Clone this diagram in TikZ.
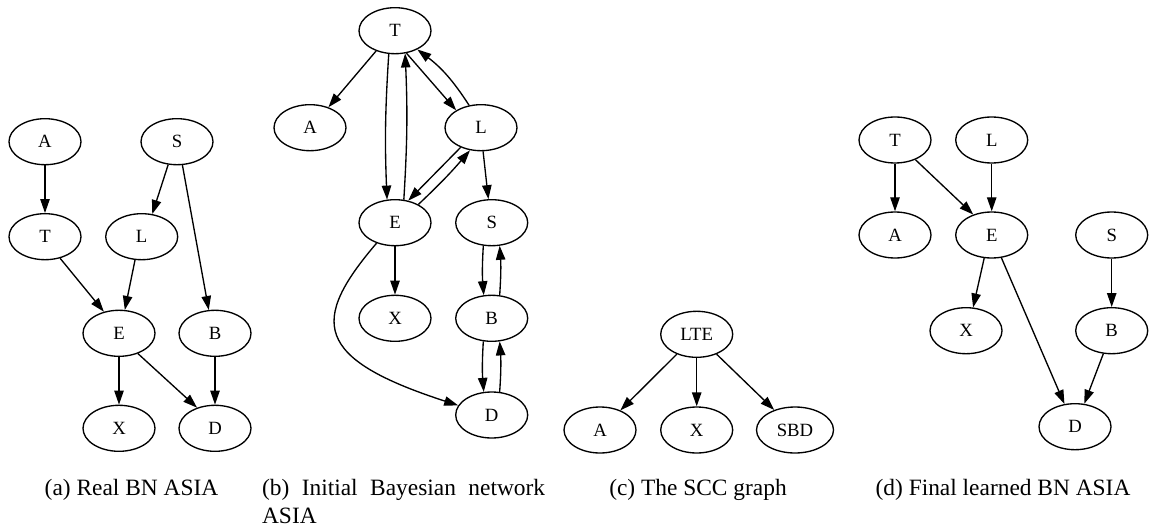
\documentclass[tikz,border=0pt]{standalone}
\usepackage{fontspec}
\setmainfont{Liberation Serif}
\usetikzlibrary{shapes.geometric,arrows.meta}
\tikzset{
  nd/.style={ellipse, draw, line width=0.67pt, minimum width=36pt, minimum height=23pt, inner sep=0pt, font=\fontsize{9.35}{11}\selectfont},
  ed/.style={-{Triangle[length=7pt,width=4.7pt]}, line width=0.67pt},
  captxt/.style={font=\fontsize{11.7}{14}\selectfont, anchor=base, inner sep=0pt}
}
\begin{document}
\begin{tikzpicture}[x=0.5pt,y=0.5pt]
\useasboundingbox (0,0) rectangle (1149,-529);
% (a)
\node[nd] (aA) at (45,-141.7) {A};
\node[nd] (aS) at (177,-141.7) {S};
\node[nd] (aT) at (45,-236.7) {T};
\node[nd] (aL) at (141.7,-236.7) {L};
\node[nd] (aE) at (119,-333.3) {E};
\node[nd] (aB) at (215,-333.3) {B};
\node[nd] (aX) at (119,-428.3) {X};
\node[nd] (aD) at (215,-428.3) {D};
\draw[ed] (aA) -- (aT);
\draw[ed] (aS.249.5) -- (aL.65.3);
\draw[ed] (aS.283.4) -- (aB.105.6);
\draw[ed] (aT.305.6) -- (aE.125.8);
\draw[ed] (aL.254.6) -- (aE.76);
\draw[ed] (aE) -- (aX);
\draw[ed] (aE.313) -- (aD.131.3);
\draw[ed] (aB) -- (aD);
% (b)
\node[nd] (bT) at (395,-30.7) {T};
\node[nd] (bA) at (310,-127.7) {A};
\node[nd] (bL) at (481,-127.7) {L};
\node[nd] (bE) at (395,-222.7) {E};
\node[nd] (bS) at (491.7,-222.7) {S};
\node[nd] (bX) at (395,-318.3) {X};
\node[nd] (bB) at (491.7,-318.3) {B};
\node[nd] (bD) at (491.7,-415) {D};
\draw[ed] (bT.227.7) -- (bA.48.8);
\draw[ed] (bT.255.2) to[bend right=3] (bE.109.6);
\draw[ed] (bE.69.9) to[bend right=3] (bT.294);
\draw[ed] (bT.297.7) -- (bL.145.6);
\draw[ed] (bL.118.2) to[bend right=10] (bT.320.4);
\draw[ed] (bL.224.6) -- (bE.59.6);
\draw[ed] (bE.38.7) to[bend right=3] (bL.244);
\draw[ed] (bL.275.5) -- (bS.98.3);
\draw[ed] (bE) -- (bX);
\draw[ed] (bE.228) .. controls (310,-321) and (313.5,-358.5) .. (bD.164.4);
\draw[ed] (bS.250) to[bend right=4] (bB.109.8);
\draw[ed] (bB.71.9) to[bend right=4] (bS.289.4);
\draw[ed] (bB.250) to[bend right=4] (bD.109.8);
\draw[ed] (bD.71.9) to[bend right=4] (bB.289.4);
% (c)
\node[nd] (cL) at (696.7,-334.3) {LTE};
\node[nd] (cA) at (600,-430) {A};
\node[nd] (cX) at (696.7,-430) {X};
\node[nd, minimum width=38.5pt] (cS) at (795,-430) {SBD};
\draw[ed] (cL.225) -- (cA.44);
\draw[ed] (cL) -- (cX);
\draw[ed] (cL.315) -- (cS.136);
% (d)
\node[nd] (dT) at (895,-140) {T};
\node[nd] (dL) at (991.7,-140) {L};
\node[nd] (dA) at (895,-235) {A};
\node[nd] (dE) at (991.7,-235) {E};
\node[nd] (dS) at (1111.7,-235) {S};
\node[nd] (dX) at (966,-330.7) {X};
\node[nd] (dB) at (1111.7,-330.7) {B};
\node[nd] (dD) at (1075,-426.7) {D};
\draw[ed] (dT) -- (dA);
\draw[ed] (dT.316.4) -- (dE.132.7);
\draw[ed] (dL) -- (dE);
\draw[ed] (dS) -- (dB);
\draw[ed] (dE.252.9) -- (dX.73.1);
\draw[ed] (dE.293.6) -- (dD.115.2);
\draw[ed] (dB.250.9) -- (dD.68.3);
% captions
\node[captxt] (capa) at (131.5,-495) {(a) Real BN ASIA};
\node[captxt, anchor=base west] (capb) at (261.7,-495) {\parbox[t]{141.5pt}{\makebox[141.5pt][s]{(b) Initial Bayesian network}\\ASIA}};
\node[captxt] (capc) at (698,-495) {(c) The SCC graph};
\node[captxt] (capd) at (1003,-495) {(d) Final learned BN ASIA};
\end{tikzpicture}
\end{document}
